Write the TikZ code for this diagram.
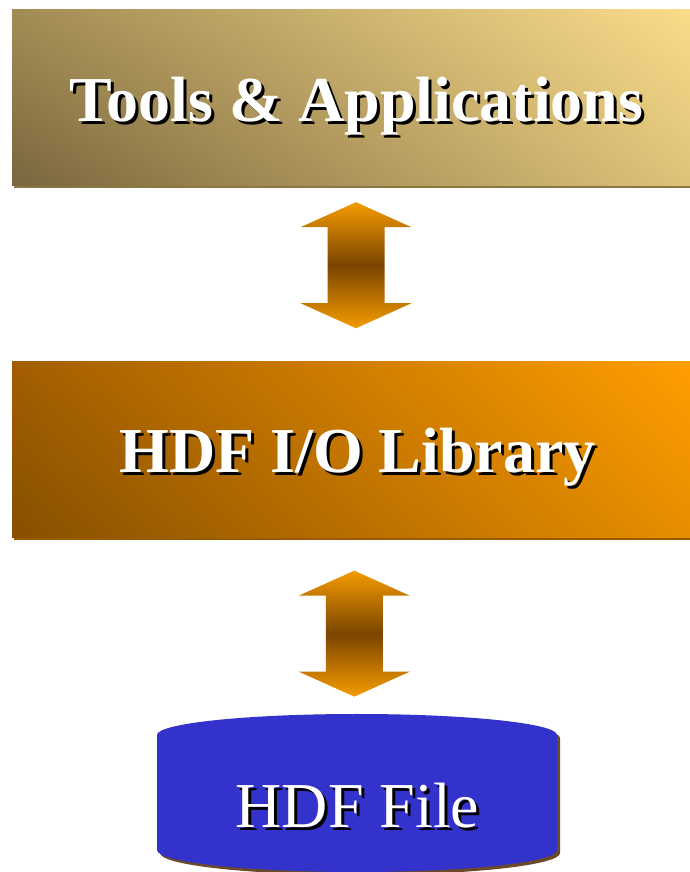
\documentclass[tikz,border=0pt]{standalone}
\usepackage{fontspec}
\setmainfont{Liberation Serif}
\usetikzlibrary{calc,shadings,shadows}

\definecolor{toolsLL}{HTML}{7A663E}
\definecolor{toolsUL}{HTML}{A28C55}
\definecolor{toolsLR}{HTML}{DDC278}
\definecolor{toolsUR}{HTML}{FADC8A}
\definecolor{toolsShadow}{HTML}{8C7642}
\definecolor{libLL}{HTML}{874F00}
\definecolor{libUL}{HTML}{A25E00}
\definecolor{libLR}{HTML}{E78D00}
\definecolor{libUR}{HTML}{FF9E00}
\definecolor{libShadow}{HTML}{9A5A00}
\definecolor{arrowEnd}{HTML}{F59B00}
\definecolor{arrowMid}{HTML}{7A4500}
\definecolor{fileBlue}{HTML}{3333CC}
\definecolor{fileShadow}{HTML}{6B4A2A}

% white lettering with a black drop shadow, set in one box
\newcommand{\shadowed}[1]{%
  \rlap{\kern3pt\raisebox{-3pt}{\textcolor{black}{#1}}}\textcolor{white}{#1}}

\tikzset{
  layerbox/.style={rectangle, inner sep=0pt, minimum width=678pt, minimum height=176pt},
  labeltext/.style={inner sep=0pt, anchor=base, font=\fontsize{64}{72}\selectfont},
  flowarrow/.style={top color=arrowEnd, bottom color=arrowEnd, middle color=arrowMid, draw=none},
}

% double-headed block arrow centred on a coordinate
\newcommand{\blockarrow}[1]{%
  \path[flowarrow] ($(#1)+(0,63)$) -- ++(55.5,-25) -- ++(-27,0) -- ++(0,-76)
    -- ++(27,0) -- ($(#1)+(0,-63)$) -- ++(-55.5,25) -- ++(27,0) -- ++(0,76)
    -- ++(-27,0) -- cycle;}

\begin{document}
\begin{tikzpicture}[x=1pt,y=1pt]
\useasboundingbox[fill=white] (0,0) rectangle (690,872);

% top layer
\node[layerbox, lower left=toolsLL, upper left=toolsUL, lower right=toolsLR, upper right=toolsUR,
      drop shadow={shadow xshift=2pt, shadow yshift=-2pt, fill=toolsShadow, opacity=1}]
  (tools) at (351,774) {};
\node[labeltext] (toolsT) at (356.5,750) {\bfseries\shadowed{Tools \& Applications}};

% middle layer
\node[layerbox, lower left=libLL, upper left=libUL, lower right=libLR, upper right=libUR,
      drop shadow={shadow xshift=2pt, shadow yshift=-2pt, fill=libShadow, opacity=1}]
  (lib) at (351,422) {};
\node[labeltext] (libT) at (357.5,399) {\bfseries\shadowed{HDF I/O Library}};

% storage cylinder
\fill[fileShadow] (160,134) arc[start angle=180, end angle=0, x radius=200, y radius=21]
  -- (560,19) arc[start angle=0, end angle=-180, x radius=200, y radius=22] -- cycle;
\fill[fileBlue] (157,137) arc[start angle=180, end angle=0, x radius=200, y radius=21]
  -- (557,22) arc[start angle=0, end angle=-180, x radius=200, y radius=22] -- cycle;
\coordinate (fileTop) at (357,158);
\node[labeltext] (fileT) at (357.5,44) {\shadowed{HDF File}};

% connecting arrows
\coordinate (arr1) at ($(tools.south)!0.45!(lib.north)+(5,0)$);
\coordinate (arr2) at ($(lib.south)!0.543!(fileTop)$);
\blockarrow{arr1}
\blockarrow{arr2}
\end{tikzpicture}
\end{document}
